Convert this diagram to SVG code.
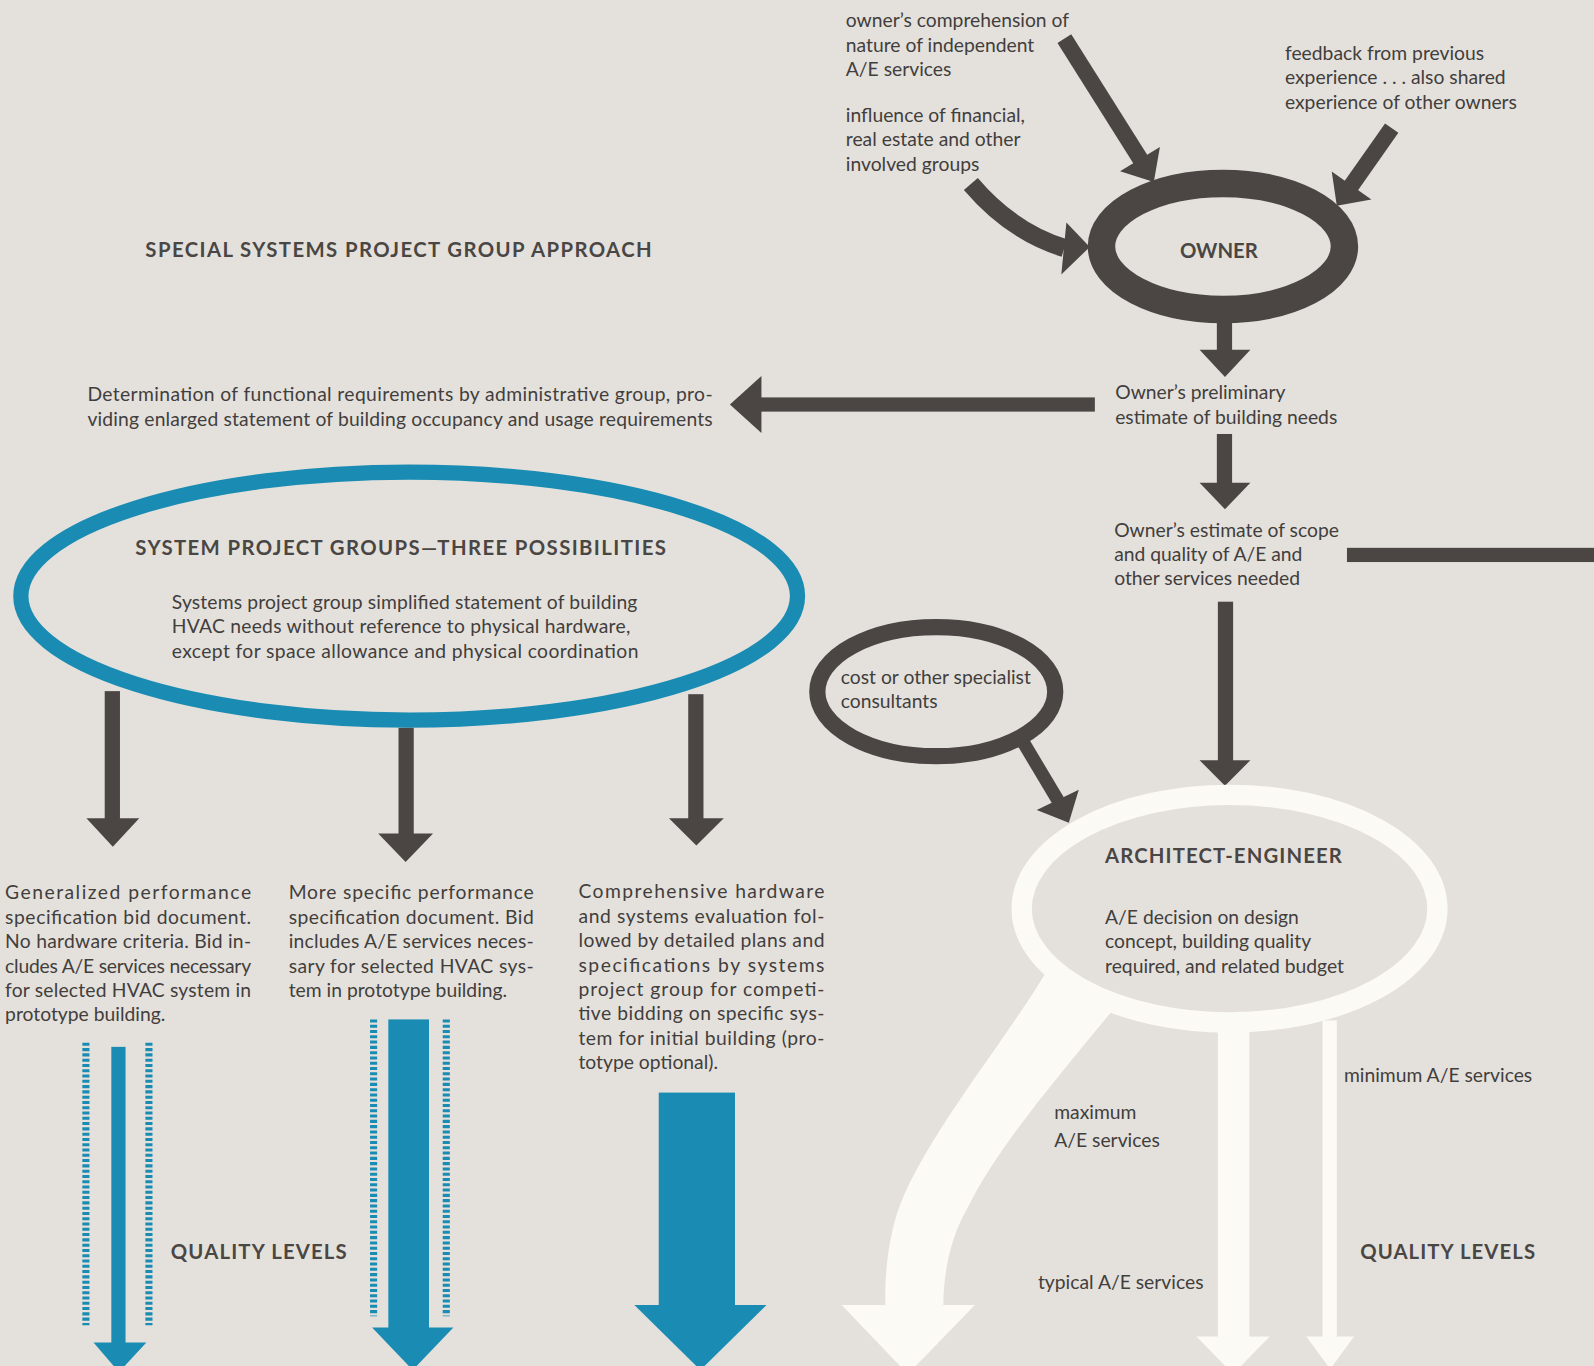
<svg xmlns="http://www.w3.org/2000/svg" width="1594" height="1366" viewBox="0 0 1594 1366">
<defs>
<style>
.t{font-family:Lato,"Open Sans","Liberation Sans",sans-serif;font-size:19px;fill:#423e3c}
.h{font-family:Lato,"Open Sans","Liberation Sans",sans-serif;font-size:20px;font-weight:bold;fill:#4a4644}
.dk{fill:#4b4644}
.dks{fill:none;stroke:#4b4644;stroke-linecap:butt}
.bl{fill:#1a8cb3}
.dot{fill:none;stroke:#1a8cb3;stroke-width:7;stroke-dasharray:3 2.2}
.wh{fill:#fbfaf4}
</style>
</defs>
<rect x="0" y="0" width="1594" height="1366" fill="#e4e1dc"/>
<g transform="scale(1.01658,1.01637)">

<g id="connectors">
  <line class="dks" x1="1047" y1="38" x2="1122" y2="157" stroke-width="16"/>
  <polygon class="dk" points="1141,144.6 1101.8,168.4 1135,179"/>
  <line class="dks" x1="1369" y1="126" x2="1329" y2="183" stroke-width="16"/>
  <polygon class="dk" points="1349,196.3 1310,168.7 1315,202.5"/>
  <path class="dks" d="M955,181 Q995,228 1047,244" stroke-width="18"/>
  <polygon class="dk" points="1049,219 1072,243 1044,270"/>
  <rect class="dk" x="1197" y="314" width="15" height="31"/>
  <polygon class="dk" points="1180,344 1230,344 1205,371"/>
  <rect class="dk" x="746" y="391" width="331" height="14"/>
  <polygon class="dk" points="749,370 749,426 718,398"/>
  <rect class="dk" x="1197" y="427" width="15" height="49"/>
  <polygon class="dk" points="1180,475 1230,475 1205,501"/>
  <rect class="dk" x="1325" y="539" width="260" height="14"/>
  <rect class="dk" x="1198" y="592" width="15" height="157"/>
  <polygon class="dk" points="1180,748 1230,748 1205,773"/>
  <line class="dks" x1="1004" y1="726" x2="1041" y2="788" stroke-width="13"/>
  <polygon class="dk" points="1061.2,777 1019.8,797 1051.4,809.5"/>
  <rect class="dk" x="103" y="680" width="15" height="126"/>
  <polygon class="dk" points="85,805 137,805 111,833"/>
  <rect class="dk" x="392" y="716" width="15" height="105"/>
  <polygon class="dk" points="372,820 426,820 399,848"/>
  <rect class="dk" x="677" y="683" width="15" height="123"/>
  <polygon class="dk" points="658,805 712,805 685,832"/>
  <line class="dot" x1="84.5" y1="1026" x2="84.5" y2="1304"/>
  <line class="dot" x1="146.5" y1="1026" x2="146.5" y2="1304"/>
  <rect class="bl" x="109.5" y="1030" width="14" height="292"/>
  <polygon class="bl" points="92,1321 144,1321 117,1350"/>
  <line class="dot" x1="367.5" y1="1003" x2="367.5" y2="1295"/>
  <line class="dot" x1="439" y1="1003" x2="439" y2="1295"/>
  <rect class="bl" x="382" y="1003" width="40" height="304"/>
  <polygon class="bl" points="366,1306 446,1306 406,1348"/>
  <rect class="bl" x="648" y="1075" width="75" height="210"/>
  <polygon class="bl" points="624,1284 754,1284 689,1348"/>
  <path class="wh" d="M1028,958 C985,1030 905,1125 882,1195 C873,1225 870,1258 871,1284 L828,1284 L893,1352 L959,1284 L928,1284 C928,1250 936,1215 952,1188 C982,1128 1040,1060 1102,985 Z"/>
  <rect class="wh" x="1198" y="1004" width="31" height="313"/>
  <polygon class="wh" points="1177,1315 1249,1315 1213,1352"/>
  <rect class="wh" x="1301" y="1004" width="14" height="313"/>
  <polygon class="wh" points="1285,1315 1332,1315 1308.5,1347"/>
</g>

<g id="owner">
  <ellipse cx="1203" cy="242.5" rx="119.5" ry="62" fill="none" stroke="#4b4644" stroke-width="27"/>
  <text class="h" x="1199" y="254" text-anchor="middle" font-size="21.5">OWNER</text>
</g>

<g id="owner-comprehension">
  <text class="t" x="832" y="27">owner’s comprehension of</text>
  <text class="t" x="832" y="51">nature of independent</text>
  <text class="t" x="832" y="75">A/E services</text>
</g>
<g id="financial-influence">
  <text class="t" x="832" y="120">influence of financial,</text>
  <text class="t" x="832" y="144">real estate and other</text>
  <text class="t" x="832" y="168">involved groups</text>
</g>
<g id="feedback">
  <text class="t" x="1264" y="59">feedback from previous</text>
  <text class="t" x="1264" y="83">experience . . . also shared</text>
  <text class="t" x="1264" y="107">experience of other owners</text>
</g>

<g id="title">
  <text class="h" x="143" y="253" font-size="20" textLength="498" lengthAdjust="spacing">SPECIAL SYSTEMS PROJECT GROUP APPROACH</text>
</g>

<g id="functional-requirements">
  <text class="t" x="86" y="395" textLength="615" lengthAdjust="spacing">Determination of functional requirements by administrative group, pro-</text>
  <text class="t" x="86" y="419" textLength="615" lengthAdjust="spacing">viding enlarged statement of building occupancy and usage requirements</text>
</g>

<g id="preliminary-estimate">
  <text class="t" x="1097" y="393">Owner’s preliminary</text>
  <text class="t" x="1097" y="417">estimate of building needs</text>
</g>

<g id="scope-estimate">
  <text class="t" x="1096" y="528">Owner’s estimate of scope</text>
  <text class="t" x="1096" y="552">and quality of A/E and</text>
  <text class="t" x="1096" y="576">other services needed</text>
</g>

<g id="system-project-groups">
  <ellipse cx="402.5" cy="586.5" rx="382" ry="122" fill="none" stroke="#1a8cb3" stroke-width="15"/>
  <text class="h" x="133" y="546" font-size="20.5" textLength="522" lengthAdjust="spacing">SYSTEM PROJECT GROUPS—THREE POSSIBILITIES</text>
  <text class="t" x="169" y="599" textLength="458" lengthAdjust="spacing">Systems project group simplified statement of building</text>
  <text class="t" x="169" y="623" textLength="451" lengthAdjust="spacing">HVAC needs without reference to physical hardware,</text>
  <text class="t" x="169" y="647" textLength="459" lengthAdjust="spacing">except for space allowance and physical coordination</text>
</g>

<g id="cost-consultants">
  <ellipse cx="921" cy="680.5" rx="117" ry="63.5" fill="none" stroke="#4b4644" stroke-width="16"/>
  <text class="t" x="827" y="673">cost or other specialist</text>
  <text class="t" x="827" y="697">consultants</text>
</g>

<g id="architect-engineer">
  <ellipse cx="1209.5" cy="894" rx="204.5" ry="112" fill="none" stroke="#fbfaf4" stroke-width="20"/>
  <text class="h" x="1087" y="849" font-size="20.5" textLength="233" lengthAdjust="spacing">ARCHITECT-ENGINEER</text>
  <text class="t" x="1087" y="909">A/E decision on design</text>
  <text class="t" x="1087" y="933">concept, building quality</text>
  <text class="t" x="1087" y="957">required, and related budget</text>
</g>

<g id="option-generalized">
  <text class="t" x="5" y="885" textLength="242" lengthAdjust="spacing">Generalized performance</text>
  <text class="t" x="5" y="909" textLength="242" lengthAdjust="spacing">specification bid document.</text>
  <text class="t" x="5" y="933" textLength="242" lengthAdjust="spacing">No hardware criteria. Bid in-</text>
  <text class="t" x="5" y="957" textLength="242" lengthAdjust="spacing">cludes A/E services necessary</text>
  <text class="t" x="5" y="981" textLength="242" lengthAdjust="spacing">for selected HVAC system in</text>
  <text class="t" x="5" y="1005">prototype building.</text>
</g>

<g id="option-specific">
  <text class="t" x="284" y="885" textLength="241" lengthAdjust="spacing">More specific performance</text>
  <text class="t" x="284" y="909" textLength="241" lengthAdjust="spacing">specification document. Bid</text>
  <text class="t" x="284" y="933" textLength="241" lengthAdjust="spacing">includes A/E services neces-</text>
  <text class="t" x="284" y="957" textLength="241" lengthAdjust="spacing">sary for selected HVAC sys-</text>
  <text class="t" x="284" y="981">tem in prototype building.</text>
</g>

<g id="option-comprehensive">
  <text class="t" x="569" y="884" textLength="242" lengthAdjust="spacing">Comprehensive hardware</text>
  <text class="t" x="569" y="908" textLength="242" lengthAdjust="spacing">and systems evaluation fol-</text>
  <text class="t" x="569" y="932" textLength="242" lengthAdjust="spacing">lowed by detailed plans and</text>
  <text class="t" x="569" y="956" textLength="242" lengthAdjust="spacing">specifications by systems</text>
  <text class="t" x="569" y="980" textLength="242" lengthAdjust="spacing">project group for competi-</text>
  <text class="t" x="569" y="1004" textLength="242" lengthAdjust="spacing">tive bidding on specific sys-</text>
  <text class="t" x="569" y="1028" textLength="242" lengthAdjust="spacing">tem for initial building (pro-</text>
  <text class="t" x="569" y="1052">totype optional).</text>
</g>

<g id="quality-levels-left">
  <text class="h" x="168" y="1239" textLength="173" lengthAdjust="spacing">QUALITY LEVELS</text>
</g>

<g id="ae-service-labels">
  <text class="t" x="1322" y="1065">minimum A/E services</text>
  <text class="t" x="1037" y="1101">maximum</text>
  <text class="t" x="1037" y="1129">A/E services</text>
  <text class="t" x="1021" y="1268">typical A/E services</text>
</g>

<g id="quality-levels-right">
  <text class="h" x="1338" y="1239" textLength="172" lengthAdjust="spacing">QUALITY LEVELS</text>
</g>

</g>
</svg>
